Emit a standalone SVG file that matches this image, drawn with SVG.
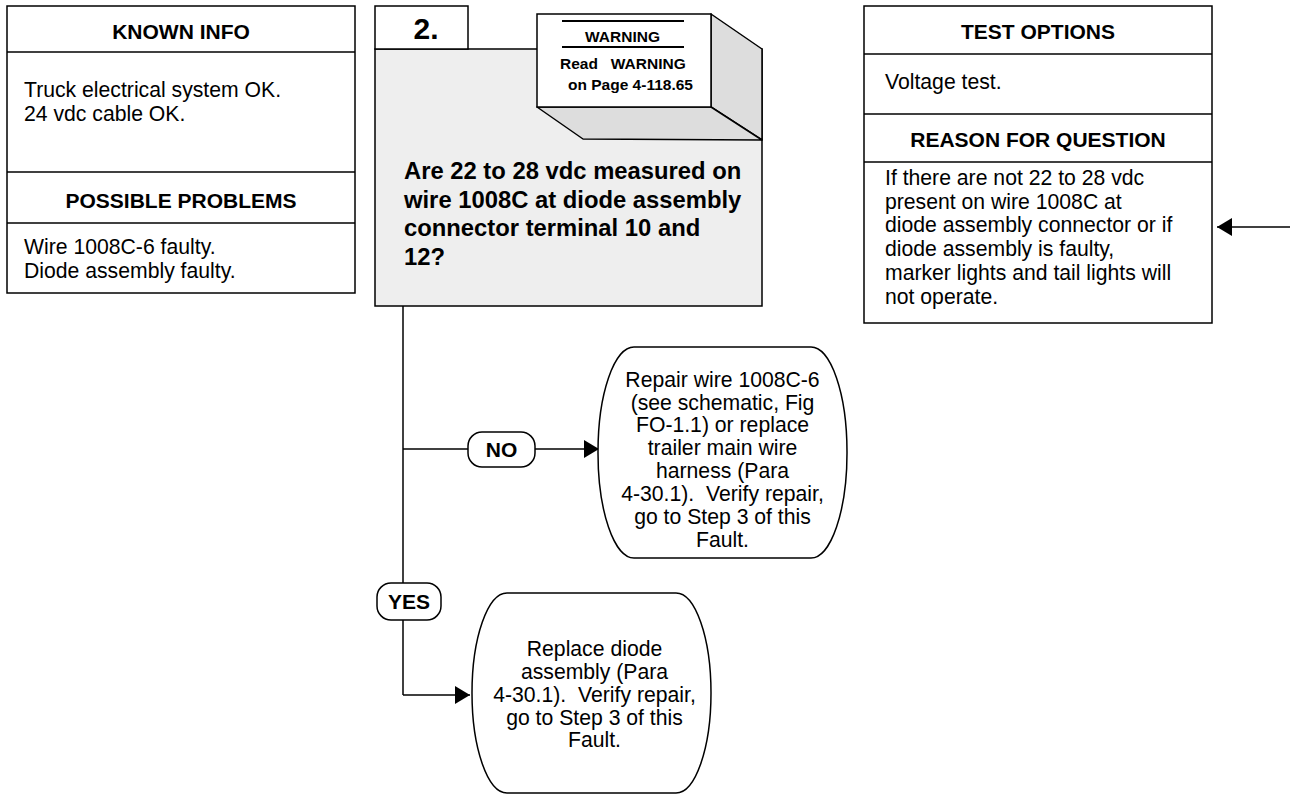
<svg xmlns="http://www.w3.org/2000/svg" width="1290" height="795" viewBox="0 0 1290 795">
<style>
text{font-family:"Liberation Sans",Arial,sans-serif;fill:#000}
.h{font-size:21px;font-weight:bold;text-anchor:middle}
.b{font-size:21.2px}
.c{font-size:21.2px;text-anchor:middle}
.q{font-size:23.8px;font-weight:bold}
.w{font-size:15.5px;font-weight:bold}
.box{fill:#fff;stroke:#000;stroke-width:1.5}
.ln{stroke:#000;stroke-width:1.5;fill:none}
</style>
<defs>
<marker id="ah" markerWidth="15" markerHeight="18" refX="15" refY="9" orient="auto" markerUnits="userSpaceOnUse">
<path d="M0,0 L15,9 L0,18 Z" fill="#000"/>
</marker>
</defs>

<g id="known-info">
<rect class="box" x="7" y="6" width="348" height="287"/>
<line class="ln" x1="7" y1="52" x2="355" y2="52"/>
<line class="ln" x1="7" y1="172" x2="355" y2="172"/>
<line class="ln" x1="7" y1="223" x2="355" y2="223"/>
<text class="h" x="181" y="39">KNOWN INFO</text>
<text class="b" x="24" y="96.5">Truck electrical system OK.</text>
<text class="b" x="24" y="120.5">24 vdc cable OK.</text>
<text class="h" x="181" y="207.5">POSSIBLE PROBLEMS</text>
<text class="b" x="24" y="254">Wire 1008C-6 faulty.</text>
<text class="b" x="24" y="278">Diode assembly faulty.</text>
</g>

<g id="step2">
<rect x="375" y="49" width="387" height="257" fill="#eeeeee" stroke="#000" stroke-width="1.5"/>
<rect class="box" x="375" y="6" width="93" height="43"/>
<text x="426" y="39" style="font-size:30px;font-weight:bold;text-anchor:middle">2.</text>
<text class="q" x="404" y="179">Are 22 to 28 vdc measured on</text>
<text class="q" x="404" y="207.7">wire 1008C at diode assembly</text>
<text class="q" x="404" y="236.3">connector terminal 10 and</text>
<text class="q" x="404" y="265">12?</text>
</g>

<g id="warning">
<polygon points="711,14 762,49 762,140 711,107" fill="#dddddd" stroke="#000" stroke-width="1.5" stroke-linejoin="round"/>
<polygon points="537,107 711,107 762,140 583,139" fill="#dddddd" stroke="#000" stroke-width="1.5" stroke-linejoin="round"/>
<rect class="box" x="537" y="14" width="174" height="93"/>
<line x1="562" y1="21" x2="684" y2="21" stroke="#000" stroke-width="2"/>
<line x1="562" y1="47" x2="684" y2="47" stroke="#000" stroke-width="2"/>
<text class="w" x="622.5" y="41.5" text-anchor="middle">WARNING</text>
<text class="w" x="560" y="68.7" xml:space="preserve">Read   WARNING</text>
<text class="w" x="568" y="90">on Page 4-118.65</text>
</g>

<g id="test-options">
<rect class="box" x="864" y="6" width="348" height="317"/>
<line class="ln" x1="864" y1="54" x2="1212" y2="54"/>
<line class="ln" x1="864" y1="114" x2="1212" y2="114"/>
<line class="ln" x1="864" y1="162" x2="1212" y2="162"/>
<text class="h" x="1038" y="39">TEST OPTIONS</text>
<text class="b" x="885" y="89.3">Voltage test.</text>
<text class="h" x="1038" y="146.7">REASON FOR QUESTION</text>
<text class="b" x="885" y="185">If there are not 22 to 28 vdc</text>
<text class="b" x="885" y="208.7">present on wire 1008C at</text>
<text class="b" x="885" y="232.4">diode assembly connector or if</text>
<text class="b" x="885" y="256.1">diode assembly is faulty,</text>
<text class="b" x="885" y="279.8">marker lights and tail lights will</text>
<text class="b" x="885" y="303.5">not operate.</text>
</g>

<g id="connectors">
<line class="ln" x1="403" y1="306" x2="403" y2="695"/>
<line class="ln" x1="403" y1="695" x2="470" y2="695" marker-end="url(#ah)"/>
<line class="ln" x1="403" y1="449" x2="468" y2="449"/>
<line class="ln" x1="535" y1="449" x2="599" y2="449" marker-end="url(#ah)"/>
<line class="ln" x1="1290" y1="227" x2="1217" y2="227" marker-end="url(#ah)"/>
</g>

<g id="no-label">
<rect class="box" x="468" y="432" width="67" height="35" rx="14"/>
<text class="h" x="501.5" y="457">NO</text>
</g>

<g id="yes-label">
<rect class="box" x="377" y="583" width="64" height="37" rx="14"/>
<text class="h" x="409" y="609">YES</text>
</g>

<g id="repair">
<rect class="box" x="598" y="347" width="249" height="211" rx="36" ry="105"/>
<text class="c" x="722.5" y="386.7">Repair wire 1008C-6</text>
<text class="c" x="722.5" y="409.6">(see schematic, Fig</text>
<text class="c" x="722.5" y="432.4">FO-1.1) or replace</text>
<text class="c" x="722.5" y="455.3">trailer main wire</text>
<text class="c" x="722.5" y="478.1">harness (Para</text>
<text class="c" x="722.5" y="501" xml:space="preserve">4-30.1).  Verify repair,</text>
<text class="c" x="722.5" y="523.8">go to Step 3 of this</text>
<text class="c" x="722.5" y="546.7">Fault.</text>
</g>

<g id="replace">
<rect class="box" x="472" y="593" width="239" height="200" rx="35" ry="100"/>
<text class="c" x="594.5" y="656">Replace diode</text>
<text class="c" x="594.5" y="678.9">assembly (Para</text>
<text class="c" x="594.5" y="701.7" xml:space="preserve">4-30.1).  Verify repair,</text>
<text class="c" x="594.5" y="724.6">go to Step 3 of this</text>
<text class="c" x="594.5" y="747.4">Fault.</text>
</g>
</svg>
